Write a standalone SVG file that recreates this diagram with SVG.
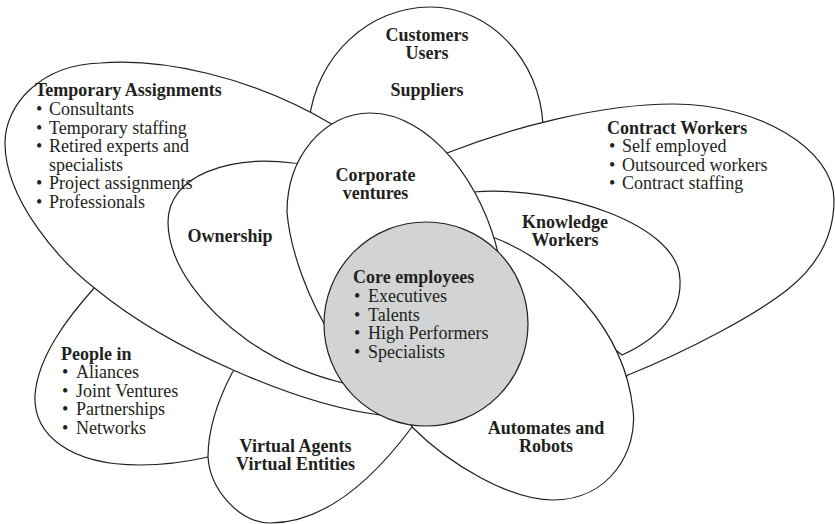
<svg xmlns="http://www.w3.org/2000/svg" width="835" height="524" viewBox="0 0 835 524">
<style>
.petal{fill:#ffffff;stroke:#231f20;stroke-width:1.2;stroke-linejoin:round}
.core{fill:#d1d3d4;stroke:#231f20;stroke-width:1.2}
text{font-family:"Liberation Serif","Times New Roman",serif;font-size:18px;fill:#231f20}
.b{font-weight:bold}
.c{text-anchor:middle}
</style>
<rect width="835" height="524" fill="#ffffff"/>
<g id="petals">
<g id="people-in"><path class="petal" d="M 95,287 C 70,315 38,355 35,395 C 33,435 70,465 140,465 C 170,465 195,460 208,457 L 230,450 L 260,400 L 250,370 L 200,345 Z"/></g>
<g id="virtual"><path class="petal" d="M 240,362 L 232,373 C 218,400 208,430 208,457 C 210,490 240,523 270,523 C 330,523 380,470 412,427 L 400,400 L 300,360 Z"/></g>
<g id="customers"><path class="petal" d="M 309,122 C 316,55 370,7 430,7 C 490,7 540,60 543,125 L 545,140 L 440,175 Z"/></g>
<g id="contract"><path class="petal" d="M 455,190 L 447,153 C 510,128 600,104 673,104 C 760,104 834,150 834,200 C 834,240 815,268 787,290 C 755,315 690,350 628,375 L 600,400 L 500,330 Z"/></g>
<g id="knowledge"><path class="petal" d="M 460,200 L 473,192 C 560,185 680,225 680,280 C 681,305 670,333 622,355 L 590,330 L 480,260 Z"/></g>
<g id="automates"><path class="petal" d="M 470,230 L 490,236 C 560,262 625,330 633,410 C 638,450 610,500 553,500 C 510,500 450,465 412,427 L 426,324 Z"/></g>
<g id="temporary"><path class="petal" d="M 380,415 C 300,405 170,350 97,290 C 60,262 5,200 5,143 C 5,105 40,65 100,63 C 160,58 250,75 335,126 L 426,324 Z"/></g>
<g id="ownership"><path class="petal" d="M 330,165 L 293,163 C 230,155 168,175 168,222 C 168,265 205,310 247,340 C 275,360 310,375 343,383 L 426,324 Z"/></g>
<g id="corporate"><path class="petal" d="M 500,262 C 485,185 430,113 370,113 C 324,113 287,157 287,212 C 290,250 308,300 335,342 L 426,324 Z"/></g>
<g id="core"><circle class="core" cx="426" cy="324" r="102"/></g>
</g>
<g id="labels">
<g id="t-temporary">
<text class="b" x="35" y="96">Temporary Assignments</text>
<text x="36" y="115">•</text><text x="49" y="115">Consultants</text>
<text x="36" y="133.5">•</text><text x="49" y="133.5">Temporary staffing</text>
<text x="36" y="152">•</text><text x="49" y="152">Retired experts and</text>
<text x="49" y="170.5">specialists</text>
<text x="36" y="189">•</text><text x="49" y="189">Project assignments</text>
<text x="36" y="207.5">•</text><text x="49" y="207.5">Professionals</text>
</g>
<g id="t-customers">
<text class="b c" x="427" y="41">Customers</text>
<text class="b c" x="427" y="59">Users</text>
<text class="b c" x="427" y="96">Suppliers</text>
</g>
<g id="t-contract">
<text class="b" x="607" y="134">Contract Workers</text>
<text x="609" y="152">•</text><text x="622" y="152">Self employed</text>
<text x="609" y="170.5">•</text><text x="622" y="170.5">Outsourced workers</text>
<text x="609" y="189">•</text><text x="622" y="189">Contract staffing</text>
</g>
<g id="t-corporate">
<text class="b c" x="375.5" y="181">Corporate</text>
<text class="b c" x="375.5" y="199">ventures</text>
</g>
<g id="t-ownership"><text class="b c" x="230" y="242">Ownership</text></g>
<g id="t-knowledge">
<text class="b c" x="565" y="228">Knowledge</text>
<text class="b c" x="565" y="246">Workers</text>
</g>
<g id="t-core">
<text class="b" x="353" y="283">Core employees</text>
<text x="354" y="302">•</text><text x="368" y="302">Executives</text>
<text x="354" y="320.5">•</text><text x="368" y="320.5">Talents</text>
<text x="354" y="339">•</text><text x="368" y="339">High Performers</text>
<text x="354" y="357.5">•</text><text x="368" y="357.5">Specialists</text>
</g>
<g id="t-people">
<text class="b" x="61" y="360">People in</text>
<text x="62" y="378">•</text><text x="76" y="378">Aliances</text>
<text x="62" y="396.5">•</text><text x="76" y="396.5">Joint Ventures</text>
<text x="62" y="415">•</text><text x="76" y="415">Partnerships</text>
<text x="62" y="433.5">•</text><text x="76" y="433.5">Networks</text>
</g>
<g id="t-virtual">
<text class="b c" x="295.5" y="452">Virtual Agents</text>
<text class="b c" x="295.5" y="470">Virtual Entities</text>
</g>
<g id="t-automates">
<text class="b c" x="546" y="434">Automates and</text>
<text class="b c" x="546" y="452">Robots</text>
</g>
</g>
</svg>
